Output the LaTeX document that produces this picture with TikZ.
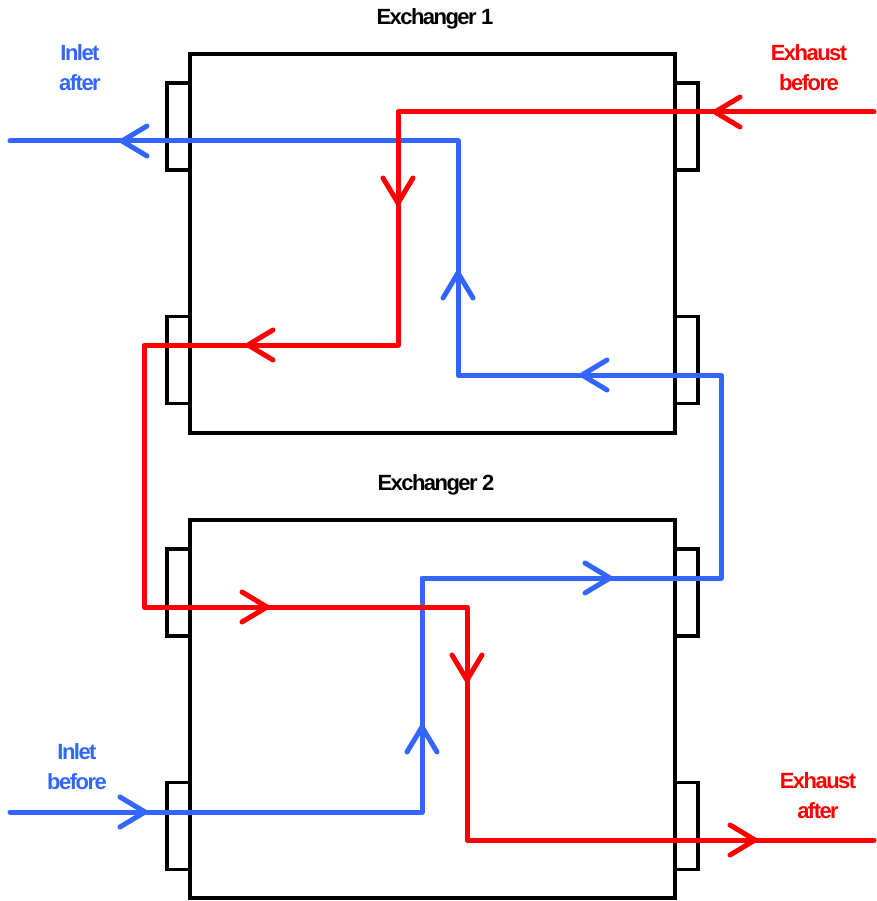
\documentclass[tikz,border=0pt]{standalone}
\usepackage{fontspec}
\setmainfont{Liberation Sans}
\definecolor{ablue}{RGB}{51,102,255}
\definecolor{ared}{RGB}{255,0,0}
\begin{document}
\begin{tikzpicture}[x=1pt,y=-1pt,
  exbox/.style={draw=black, line width=3.5pt, line join=miter, minimum width=485pt, minimum height=379pt, inner sep=0pt},
  tab/.style={draw=black, line width=3.5pt, minimum width=23pt, minimum height=87pt, inner sep=0pt},
  flow/.style={line width=5pt, line join=round, line cap=round},
  blueflow/.style={flow, draw=ablue},
  redflow/.style={flow, draw=ared},
  barb/.pic={\draw[line width=5pt, line cap=round, line join=round] (-25pt,15pt) -- (0pt,0pt) -- (-25pt,-15pt);},
  title/.style={font=\fontsize{22}{30}\selectfont\bfseries\addfontfeature{LetterSpace=-7}, inner sep=0pt, text=black},
  lbl/.style={font=\fontsize{22}{30}\selectfont\bfseries\addfontfeature{LetterSpace=-7}, inner sep=0pt, align=center}
]
\useasboundingbox (0,0) rectangle (876,901);

% tabs
\node[tab] (t1l) at (178.5,126.5) {};
\node[tab] (t2l) at (178.5,360) {};
\node[tab] (t1r) at (686.5,126.5) {};
\node[tab] (t2r) at (686.5,360) {};
\node[tab] (t3l) at (178.5,592.5) {};
\node[tab] (t4l) at (178.5,826) {};
\node[tab] (t3r) at (686.5,592.5) {};
\node[tab] (t4r) at (686.5,826) {};

% exchangers
\node[exbox] (ex1) at (432.5,243.5) {};
\node[exbox, minimum height=378pt] (ex2) at (432.5,709) {};

\node[title] (ttl1) at (435,19) {Exchanger 1};
\node[title] (ttl2) at (436,485) {Exchanger 2};

\node[lbl, text=ablue] (ia) at (80,68) {Inlet\\after};
\node[lbl, text=ablue] (ib) at (77,767) {Inlet\\before};
\node[lbl, text=ared] (eb) at (809,68) {Exhaust\\before};
\node[lbl, text=ared] (ea) at (818,796) {Exhaust\\after};

% blue flow
\coordinate (bin) at (10,812);
\coordinate (b1) at (422,812);
\coordinate (b2) at (422,578);
\coordinate (b3) at (721,578);
\coordinate (b4) at (721,375);
\coordinate (b5) at (458,375);
\coordinate (b6) at (458,141);
\coordinate (bout) at (10,141);
\draw[blueflow] (bin) -- (b1) -- (b2) -- (b3) -- (b4) -- (b5) -- (b6) -- (bout);

% red flow
\coordinate (rin) at (874,112);
\coordinate (r1) at (398,112);
\coordinate (r2) at (398,345);
\coordinate (r3) at (144,345);
\coordinate (r4) at (144,607);
\coordinate (r5) at (467,607);
\coordinate (r6) at (467,840);
\coordinate (rout) at (874,840);
\draw[redflow] (rin) -- (r1) -- (r2) -- (r3) -- (r4) -- (r5) -- (r6) -- (rout);

% direction barbs
\begin{scope}[ablue]
\pic at (145,812) {barb};
\pic[rotate=90] at (422,727) {barb};
\pic at (610,578) {barb};
\pic[rotate=180] at (582,375) {barb};
\pic[rotate=90] at (458,273) {barb};
\pic[rotate=180] at (122,141) {barb};
\end{scope}
\begin{scope}[ared]
\pic[rotate=180] at (715,112) {barb};
\pic[rotate=-90] at (398,203) {barb};
\pic[rotate=180] at (248,345) {barb};
\pic at (267,607) {barb};
\pic[rotate=-90] at (467,680) {barb};
\pic at (755,840) {barb};
\end{scope}
\end{tikzpicture}
\end{document}
